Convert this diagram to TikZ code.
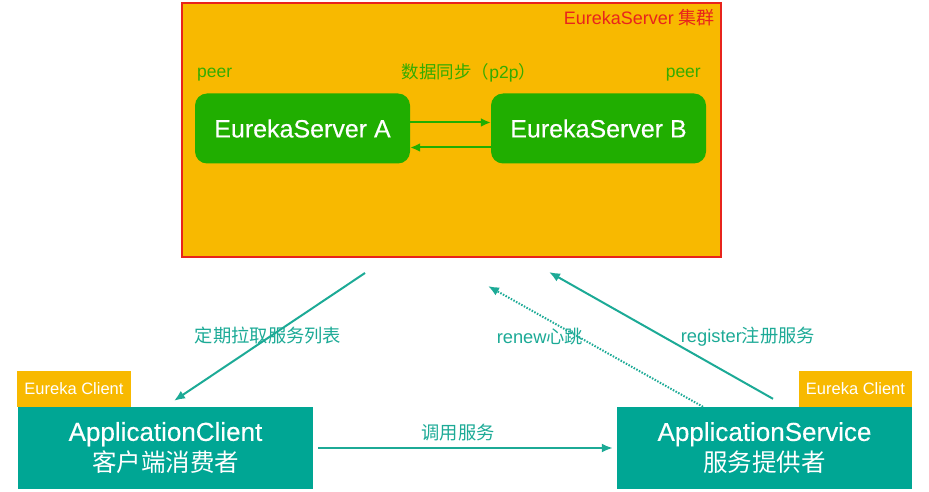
\documentclass[tikz,border=0pt]{standalone}
\usepackage{fontspec}
\setmainfont{Liberation Sans}
\newfontfamily\cjk{Noto Sans CJK SC}
\newfontfamily\medsans[FakeBold=0.3]{Liberation Sans}
\usepackage{tikz}
\usetikzlibrary{shapes,arrows.meta,positioning}
\usepackage{xcolor}
\definecolor{clusterorange}{RGB}{248,185,0}
\definecolor{clusterred}{RGB}{232,36,28}
\definecolor{srvgreen}{RGB}{32,174,0}
\definecolor{peergreen}{RGB}{52,172,0}
\definecolor{appteal}{RGB}{0,166,148}
\definecolor{lineteal}{RGB}{28,170,150}
\newcommand{\zhtxt}[1]{{\cjk #1}}

\begin{document}
\begin{tikzpicture}[x=1pt,y=-1pt]
    %styles
    \tikzstyle{cluster}=[rectangle,draw=clusterred,line width=2pt,fill=clusterorange,minimum width=539pt,minimum height=254pt]
    \tikzstyle{server}=[rectangle,rounded corners=12pt,fill=srvgreen,text=white,minimum width=215pt,minimum height=70pt,font=\medsans\fontsize{25}{30}\selectfont]
    \tikzstyle{app}=[rectangle,fill=appteal,text=white,align=center,minimum width=295pt,minimum height=82pt,font=\medsans\fontsize{26}{31}\selectfont]
    \tikzstyle{tag}=[rectangle,fill=clusterorange,text=white,minimum height=36pt,inner sep=0pt,font=\fontsize{16.5}{19}\selectfont]
    \tikzstyle{greentxt}=[text=peergreen,inner sep=0pt,font=\fontsize{17.5}{20}\selectfont]
    \tikzstyle{label}=[text=lineteal,inner sep=0pt,font=\fontsize{18.3}{21}\selectfont]
    \tikzstyle{sync}=[->,>={Latex[length=10pt,width=9pt]},srvgreen,line width=2pt]
    \tikzstyle{commu}=[->,>={Latex[length=11pt,width=9pt]},lineteal,line width=2pt]
    \tikzstyle{beat}=[commu,dash pattern=on 1.5pt off 1.5pt]
    \useasboundingbox (0,0) rectangle (929,492);
    %nodes
    \node[cluster] (cl) at (451.5,130) {};
    \node[text=clusterred,anchor=east,inner sep=0pt,font=\fontsize{18}{20}\selectfont] (ttl) at (715,18) {EurekaServer \zhtxt{集群}};
    \node[server] (srvA) at (302.5,128.5) {EurekaServer A};
    \node[server] (srvB) at (598.5,128.5) {EurekaServer B};
    \node[greentxt,anchor=west] (peerA) at (197,75) {peer};
    \node[greentxt,anchor=east] (peerB) at (701,75) {peer};
    \node[greentxt] (synctxt) at (469,73) {\zhtxt{数据同步（}p2p\zhtxt{）}};

    \node[app] (cli) at (165.5,448) {ApplicationClient\\\zhtxt{\fontsize{24.5}{31}\selectfont 客户端消费者}};
    \node[tag,minimum width=114pt] (clitag) at (74,389) {Eureka Client};
    \node[app] (svc) at (764.5,448) {ApplicationService\\\zhtxt{\fontsize{24.5}{31}\selectfont 服务提供者}};
    \node[tag,minimum width=113pt] (svctag) at (855.5,389) {Eureka Client};

    \node[label] (pulltxt) at (268,336) {\zhtxt{定期拉取服务列表}};
    \node[label] (renewtxt) at (540,337) {renew\zhtxt{心跳}};
    \node[label] (regtxt) at (748,337) {register\zhtxt{注册服务}};
    \node[label] (calltxt) at (458,433) {\zhtxt{调用服务}};

    %arrows
    \draw[sync] ([yshift=6pt]srvA.east)--([yshift=6pt]srvB.west);
    \draw[sync] ([yshift=-19pt]srvB.west)--([yshift=-19pt]srvA.east);
    \draw[commu] ([xshift=-86.5pt,yshift=-15pt]cl.south)--([xshift=8.5pt,yshift=6pt]cli.north);
    \draw[commu] ([xshift=5pt]cli.east)--([xshift=-4pt]svc.west);
    \draw[beat] ([xshift=-61.5pt]svc.north)--([xshift=36.5pt,yshift=-28pt]cl.south);
    \draw[commu] ([xshift=8.5pt,yshift=8pt]svc.north)--([xshift=97.5pt,yshift=-14pt]cl.south);
\end{tikzpicture}
\end{document}
